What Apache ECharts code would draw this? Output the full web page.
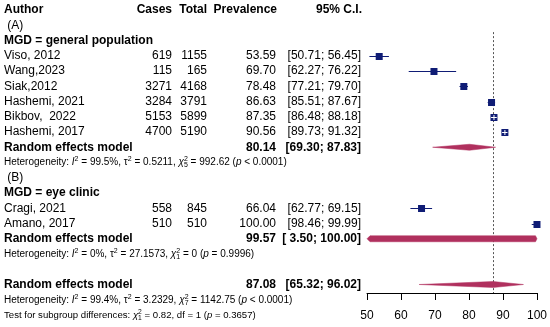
<!DOCTYPE html>
<html><head><meta charset="utf-8">
<script src="https://cdn.jsdelivr.net/npm/echarts@6/dist/echarts.min.js"></script>
<style>html,body{margin:0;padding:0;background:#fff}#c{width:550px;height:327px}</style>
</head><body><div id="c"></div>
<script>
// ---------- data ----------
const headers = ['Author', 'Cases', 'Total', 'Prevalence', '95% C.I.'];
const authors = ['Viso, 2012', 'Wang,2023', 'Siak,2012', 'Hashemi, 2021', 'Bikbov,  2022', 'Hashemi, 2017', 'Cragi, 2021', 'Amano, 2017'];
const cases = [619, 115, 3271, 3284, 5153, 4700, 558, 510];
const totals = [1155, 165, 4168, 3791, 5899, 5190, 845, 510];
const prevalence = [53.59, 69.70, 78.48, 86.63, 87.35, 90.56, 66.04, 100.00];
const ciLower = [50.71, 62.27, 77.21, 85.51, 86.48, 89.73, 62.77, 98.46];
const ciUpper = [56.45, 76.22, 79.70, 87.67, 88.18, 91.32, 69.15, 99.99];
const studyRows = [3, 4, 5, 6, 7, 8, 13, 14];

const groupLabels = [' (A)', ' (B)'];
const groupLabelRows = [1, 11];
const groupTitles = ['MGD = general population', 'MGD = eye clinic'];
const groupTitleRows = [2, 12];

const pooledLabels = ['Random effects model', 'Random effects model', 'Random effects model'];
const pooledEst = [80.14, 99.57, 87.08];
const pooledLower = [69.30, 3.50, 65.32];
const pooledUpper = [87.83, 100.00, 96.02];
const pooledRows = [9, 15, 18];

const hetI2 = ['99.5%', '0%', '99.4%'];
const hetTau2 = ['0.5211', '27.1573', '3.2329'];
const hetDf = [5, 1, 7];
const hetQ = ['992.62', '0', '1142.75'];
const hetP = ['< 0.0001', '= 0.9996', '< 0.0001'];
const hetRows = [10, 16, 19];

const testQ = '0.82', testDf = 1, testP = '= 0.3657', testRow = 20;

const xTicks = [50, 60, 70, 80, 90, 100];
const refValue = 87.08;

// ---------- layout / style ----------
const FONT = 'Liberation Sans, Arial, sans-serif';
const NAVY = '#0f1c75';
const DIAMOND = '#b0305e';
const ROW_H = 15.25, TOP = 10, BOTTOM = 34, H = 327;
const YMAX = (H - TOP - BOTTOM) / ROW_H;
const COLX = { author: 4, cases: 172, total: 207, prev: 276, ci: 361 };

const fmtCI = (lo, hi) => '[' + lo.toFixed(2).padStart(5, ' ') + '; ' + hi.toFixed(2) + ']';

const makeRich = (fs) => ({
  it: { fontStyle: 'italic', fontSize: fs, fontFamily: FONT, lineHeight: 13 },
  sup: { fontSize: fs * 0.7, fontFamily: FONT, verticalAlign: 'top', lineHeight: 13 },
  supz: { fontSize: fs * 0.7, fontFamily: FONT, verticalAlign: 'top', lineHeight: 13, width: 0.01 },
  sub: { fontSize: fs * 0.7, fontFamily: FONT, verticalAlign: 'bottom', lineHeight: 13 },
  n: { fontSize: fs, fontFamily: FONT, lineHeight: 13 }
});

const texts = [];
const add = (x, row, text, opt) => texts.push(Object.assign({ x, row, text, size: 12, bold: false, align: 'left' }, opt || {}));

add(COLX.author, 0, headers[0], { bold: true });
add(COLX.cases, 0, headers[1], { bold: true, align: 'right' });
add(COLX.total, 0, headers[2], { bold: true, align: 'right' });
add(COLX.prev + 1, 0, headers[3], { bold: true, align: 'right' });
add(COLX.ci + 1, 0, headers[4], { bold: true, align: 'right' });

groupLabels.forEach((g, i) => add(COLX.author, groupLabelRows[i], g));
groupTitles.forEach((g, i) => add(COLX.author, groupTitleRows[i], g, { bold: true }));

authors.forEach((a, i) => {
  const r = studyRows[i];
  add(COLX.author, r, a);
  add(COLX.cases, r, String(cases[i]), { align: 'right' });
  add(COLX.total, r, String(totals[i]), { align: 'right' });
  add(COLX.prev, r, prevalence[i].toFixed(2), { align: 'right' });
  add(COLX.ci, r, fmtCI(ciLower[i], ciUpper[i]), { align: 'right' });
});

pooledLabels.forEach((p, i) => {
  const r = pooledRows[i];
  add(COLX.author, r, p, { bold: true });
  add(COLX.prev, r, pooledEst[i].toFixed(2), { bold: true, align: 'right' });
  add(COLX.ci, r, fmtCI(pooledLower[i], pooledUpper[i]), { bold: true, align: 'right' });
});

hetRows.forEach((r, i) => {
  const s = '{n|Heterogeneity: }{it|I}{sup|2}{n| = ' + hetI2[i] + ', τ}{sup|2}{n| = ' + hetTau2[i] + ', }{it|χ}{supz|2}{sub|' + hetDf[i] + '}{n| = ' + hetQ[i] + ' (}{it|p}{n| ' + hetP[i] + ')}';
  add(COLX.author, r, s, { size: 10, rich: makeRich(10) });
});
add(COLX.author, testRow,
  '{n|Test for subgroup differences: }{it|χ}{supz|2}{sub|' + testDf + '}{n| = ' + testQ + ', df = ' + testDf + ' (}{it|p}{n| ' + testP + ')}',
  { size: 9.6, rich: makeRich(9.6) });

// ---------- chart ----------
const chart = echarts.init(document.getElementById('c'));
const option = {
  animation: false,
  backgroundColor: '#fff',
  textStyle: { fontFamily: FONT },
  grid: [
    { left: 367, right: 13, top: TOP, bottom: BOTTOM, containLabel: false },
    { left: 0, right: 0, top: TOP, bottom: BOTTOM, containLabel: false }
  ],
  xAxis: [
    {
      gridIndex: 0, type: 'value', min: xTicks[0], max: xTicks[xTicks.length - 1], interval: 10,
      axisLine: { show: true, onZero: false, lineStyle: { color: '#000', width: 1 } },
      axisTick: { show: true, length: 7, lineStyle: { color: '#000', width: 1 } },
      axisLabel: { color: '#000', fontSize: 12, margin: 17, fontFamily: FONT },
      splitLine: { show: false }
    },
    { gridIndex: 1, type: 'value', min: 0, max: 550, show: false }
  ],
  yAxis: [
    { gridIndex: 0, type: 'value', min: 0, max: YMAX, inverse: true, show: false },
    { gridIndex: 1, type: 'value', min: 0, max: YMAX, inverse: true, show: false }
  ],
  series: [
    {
      type: 'custom', xAxisIndex: 1, yAxisIndex: 1, clip: false, silent: true,
      data: texts.map(t => [t.x, t.row]),
      renderItem: (params, api) => {
        const t = texts[params.dataIndex];
        const p = api.coord([api.value(0), api.value(1)]);
        const style = {
          text: t.text, fill: '#000', fontSize: t.size, fontFamily: FONT,
          fontWeight: t.bold ? 'bold' : 'normal', align: t.align, verticalAlign: 'middle'
        };
        if (t.rich) style.rich = t.rich;
        return { type: 'text', x: p[0], y: p[1], style };
      }
    },
    {
      // reference dotted line at overall estimate
      type: 'custom', xAxisIndex: 0, yAxisIndex: 0, clip: false, silent: true,
      data: [[refValue]],
      renderItem: (params, api) => {
        const a = api.coord([api.value(0), 1.45]);
        const b = api.coord([api.value(0), YMAX]);
        const x = Math.round(a[0]) + 0.5;
        return { type: 'line', shape: { x1: x, y1: a[1], x2: x, y2: b[1] },
          style: { stroke: '#555', lineWidth: 1, lineDash: [2, 2] } };
      }
    },
    {
      // study squares + CIs
      type: 'custom', xAxisIndex: 0, yAxisIndex: 0, clip: false, silent: true,
      data: prevalence.map((v, i) => [v, ciLower[i], ciUpper[i], studyRows[i]]),
      renderItem: (params, api) => {
        const c = api.coord([api.value(0), api.value(3)]);
        const l = api.coord([api.value(1), api.value(3)]);
        const h = api.coord([api.value(2), api.value(3)]);
        const s = 7;
        const y = Math.round(c[1]) + 0.5;
        const inside = l[0] >= c[0] - s / 2 && h[0] <= c[0] + s / 2;
        const ch = [];
        if (!inside) ch.push({ type: 'line', shape: { x1: l[0], y1: y, x2: h[0], y2: y }, style: { stroke: NAVY, lineWidth: 1 } });
        ch.push({ type: 'rect', shape: { x: c[0] - s / 2, y: y - s / 2, width: s, height: s }, style: { fill: NAVY } });
        if (inside) {
          ch.push({ type: 'line', shape: { x1: l[0], y1: y, x2: h[0], y2: y }, style: { stroke: '#fff', lineWidth: 1 } });
          ch.push({ type: 'line', shape: { x1: c[0], y1: y - 2.5, x2: c[0], y2: y + 2.5 }, style: { stroke: '#fff', lineWidth: 1 } });
        }
        return { type: 'group', children: ch };
      }
    },
    {
      // pooled diamonds
      type: 'custom', xAxisIndex: 0, yAxisIndex: 0, clip: false, silent: true,
      data: pooledEst.map((v, i) => [v, pooledLower[i], pooledUpper[i], pooledRows[i]]),
      renderItem: (params, api) => {
        const xmin = xTicks[0], xmax = xTicks[xTicks.length - 1];
        const est = api.value(0), lo = api.value(1), hi = api.value(2), row = api.value(3);
        const c = api.coord([est, row]);
        const l = api.coord([Math.max(lo, xmin), row]);
        const r = api.coord([Math.min(hi, xmax), row]);
        const hh = 3, y = c[1];
        let pts;
        if (lo < xmin) {
          pts = [[l[0], y], [l[0] + 3, y - hh], [c[0], y - hh], [r[0], y], [c[0], y + hh], [l[0] + 3, y + hh]];
        } else {
          pts = [[l[0], y], [c[0], y - hh], [r[0], y], [c[0], y + hh]];
        }
        return { type: 'polygon', shape: { points: pts }, style: { fill: DIAMOND, stroke: DIAMOND, lineWidth: 0.5 } };
      }
    }
  ]
};
chart.setOption(option);
</script>
</body></html>
